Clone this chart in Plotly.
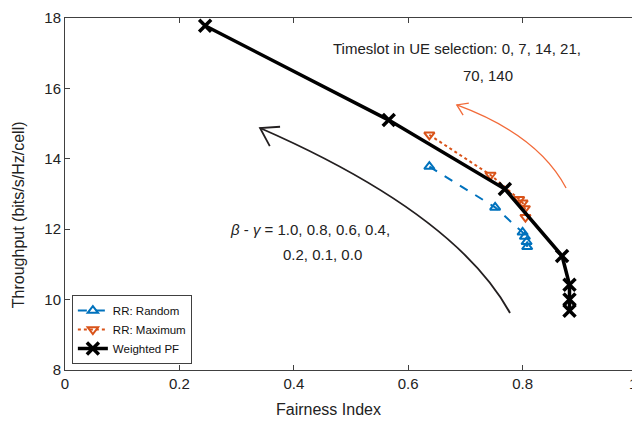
import plotly.graph_objects as go

# Data
pf_x = [0.245, 0.566, 0.769, 0.869, 0.882, 0.882, 0.882]
pf_y = [17.78, 15.10, 13.14, 11.24, 10.42, 10.00, 9.68]

rand_x = [0.637, 0.752, 0.800, 0.804, 0.807, 0.808]
rand_y = [13.78, 12.62, 11.91, 11.79, 11.64, 11.50]

max_x = [0.637, 0.744, 0.794, 0.800, 0.804, 0.805]
max_y = [14.68, 13.54, 12.85, 12.75, 12.59, 12.34]

x_ticks = [0, 0.2, 0.4, 0.6, 0.8, 1]
x_tick_text = ["0", "0.2", "0.4", "0.6", "0.8", "1"]
y_ticks = [8, 10, 12, 14, 16, 18]

BLUE = "#0072BD"
ORANGE = "#D95319"
FONT = "Liberation Sans, Arial, sans-serif"

fig = go.Figure()
fig.add_trace(go.Scatter(
    x=rand_x, y=rand_y, name="RR: Random", mode="lines+markers",
    line=dict(color=BLUE, width=2, dash="dash"),
    marker=dict(symbol="triangle-up-open", size=9, color=BLUE, line=dict(width=2)),
))
fig.add_trace(go.Scatter(
    x=max_x, y=max_y, name="RR: Maximum", mode="lines+markers",
    line=dict(color=ORANGE, width=2, dash="dot"),
    marker=dict(symbol="triangle-down-open", size=9, color=ORANGE, line=dict(width=2)),
))
fig.add_trace(go.Scatter(
    x=pf_x, y=pf_y, name="Weighted PF", mode="lines+markers",
    line=dict(color="black", width=3.5),
    marker=dict(symbol="x-thin-open", size=12, color="black", line=dict(width=3.5, color="black")),
))

# Curved arrows (annotation shapes)
DARK = "#231f20"
fig.add_shape(type="path", path="M 0.778 9.62 Q 0.682 12.45 0.341 14.875",
              line=dict(color=DARK, width=1.8), xref="x", yref="y")
fig.add_shape(type="path", path="M 0.376 14.91 L 0.341 14.875 L 0.358 14.36",
              line=dict(color=DARK, width=1.8), xref="x", yref="y")
fig.add_shape(type="path", path="M 0.876 13.17 Q 0.827 14.68 0.685 15.53",
              line=dict(color="#F26B3A", width=1.3), xref="x", yref="y")
fig.add_shape(type="path", path="M 0.706 15.58 L 0.685 15.53 L 0.696 15.24",
              line=dict(color="#F26B3A", width=1.3), xref="x", yref="y")

TXT = dict(family=FONT, size=15, color="#222")
fig.add_annotation(x=0.465, y=17.13, xref="x", yref="y", xanchor="left", yanchor="middle",
                   text="Timeslot in UE selection: 0, 7, 14, 21,", showarrow=False, font=TXT)
fig.add_annotation(x=0.692, y=16.37, xref="x", yref="y", xanchor="left", yanchor="middle",
                   text="70, 140", showarrow=False, font=TXT)
fig.add_annotation(x=0.285, y=12.0, xref="x", yref="y", xanchor="left", yanchor="middle",
                   text="<i>β</i> - <i>γ</i> = 1.0, 0.8, 0.6, 0.4,", showarrow=False, font=TXT)
fig.add_annotation(x=0.378, y=11.27, xref="x", yref="y", xanchor="left", yanchor="middle",
                   text="0.2, 0.1, 0.0", showarrow=False, font=TXT)

# Axis titles (placed as in the reference)
TITLE = dict(family=FONT, size=16, color="#222")
fig.add_annotation(x=0.4615, y=-0.1136, xref="paper", yref="paper", xanchor="center", yanchor="middle",
                   text="Fairness Index", showarrow=False, font=TITLE)
fig.add_annotation(x=-0.082, y=0.44, xref="paper", yref="paper", xanchor="center", yanchor="middle",
                   text="Throughput (bits/s/Hz/cell)", textangle=-90, showarrow=False, font=TITLE)

# Last x tick label sits at the very edge of the page; draw it explicitly so it stays visible
tick_text_shown = x_tick_text[:-1] + [""]
fig.add_annotation(x=x_ticks[-1], y=0, xref="x", yref="paper", xanchor="right", yanchor="top",
                   xshift=2, yshift=-3, text=x_tick_text[-1], showarrow=False,
                   font=dict(family=FONT, size=15, color="#222"))

axis_common = dict(showgrid=False, zeroline=False, showline=True, linecolor="#404040",
                   linewidth=1, mirror="ticks", ticks="inside", ticklen=5, tickcolor="#404040",
                   tickfont=dict(family=FONT, size=15, color="#222"), automargin=False,
                   ticklabeloverflow="allow")

# Page body has an 8px margin: size/margins compensate so the plot area sits at 65..637 x 18..370
fig.update_layout(
    width=632, height=417,
    margin=dict(l=57, r=3, t=10, b=55),
    paper_bgcolor="white", plot_bgcolor="white",
    font=dict(family=FONT),
    xaxis=dict(range=[0, 1], tickvals=x_ticks, ticktext=tick_text_shown, **axis_common),
    yaxis=dict(range=[8, 18], tickvals=y_ticks, **axis_common),
    legend=dict(x=0.012, y=0.017, xanchor="left", yanchor="bottom",
                bgcolor="white", bordercolor="#404040", borderwidth=1,
                font=dict(family=FONT, size=11.5, color="#111"),
                tracegroupgap=0, itemwidth=30),
    showlegend=True,
)

fig.write_html("out.html",
               post_script="document.documentElement.style.overflow='hidden';"
                           "document.body.style.overflow='hidden';")
